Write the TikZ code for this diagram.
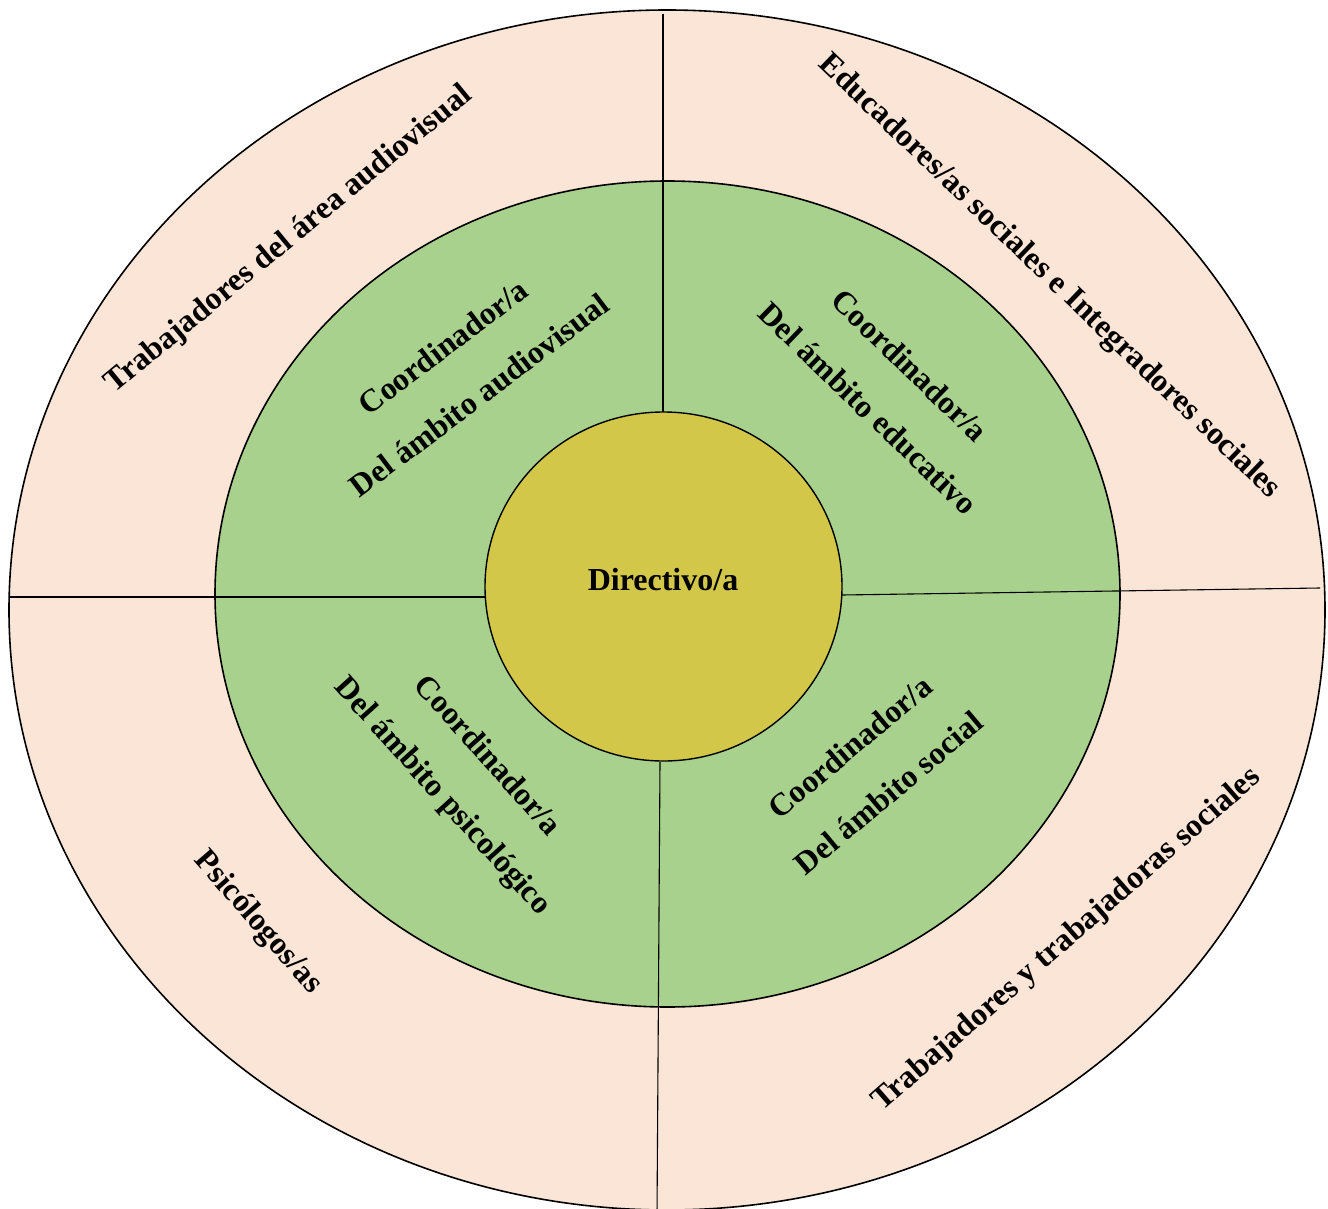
\documentclass[tikz,border=0pt]{standalone}
\usepackage{fontspec}
\setmainfont{Liberation Serif}
\usetikzlibrary{shapes.geometric}
\definecolor{peach}{HTML}{FBE5D6}
\definecolor{leaf}{HTML}{A9D18E}
\definecolor{mustard}{HTML}{D3C74A}
\begin{document}
\begin{tikzpicture}[x=1pt,y=-1pt,
  lbl/.style={font=\fontsize{32}{60}\selectfont\bfseries, align=center, inner sep=0pt, text=black},
  ring/.style={draw=black, line width=1.6pt},
  divider/.style={draw=black, line width=1.1pt}]
\useasboundingbox (0,0) rectangle (1328,1209);
\fill[white] (0,0) rectangle (1328,1209);
% rings
\draw[ring, fill=peach] (667,610) ellipse [x radius=658, y radius=600];
\draw[ring, fill=leaf] (667.5,594) ellipse [x radius=452.5, y radius=413];
\node[ring, fill=mustard, ellipse, minimum width=357pt, minimum height=349pt, inner sep=0pt, line width=1.4pt] (dir) at (663.5,586.5) {};
% divider end points
\coordinate (topA) at (663,14);
\coordinate (topB) at (663,412);
\coordinate (botA) at (660,762);
\coordinate (botB) at (657,1215);
\coordinate (leftA) at (9,597);
\coordinate (leftB) at (485,597);
\coordinate (rightA) at (842,595);
\coordinate (rightB) at (1320,588);
\draw[divider] (topA) -- (topB);
\draw[divider] (botA) -- (botB);
\draw[divider] (leftA) -- (leftB);
\draw[divider] (rightA) -- (rightB);
% centre label
\node[lbl] (dirlbl) at (663,580) {Directivo/a};
% green ring labels
\node[lbl, rotate=37] (caud) at (461,371) {Coordinador/a\\Del ámbito audiovisual};
\node[lbl, rotate=-44] (cedu) at (889,387) {Coordinador/a\\Del ámbito educativo};
\node[lbl, rotate=-48] (cpsi) at (464,777) {Coordinador/a\\Del ámbito psicológico};
\node[lbl, rotate=40] (csoc) at (869,770) {Coordinador/a\\Del ámbito social};
% outer ring labels
\node[lbl, rotate=39.5] (taud) at (289,240) {Trabajadores del área audiovisual};
\node[lbl, rotate=-43.8] (edu) at (1049,277) {Educadores/as sociales e Integradores sociales};
\node[lbl, rotate=-49] (psi) at (258,923) {Psicólogos/as};
\node[lbl, rotate=41.2] (tsoc) at (1067,940) {Trabajadores y trabajadoras sociales};
\end{tikzpicture}
\end{document}
